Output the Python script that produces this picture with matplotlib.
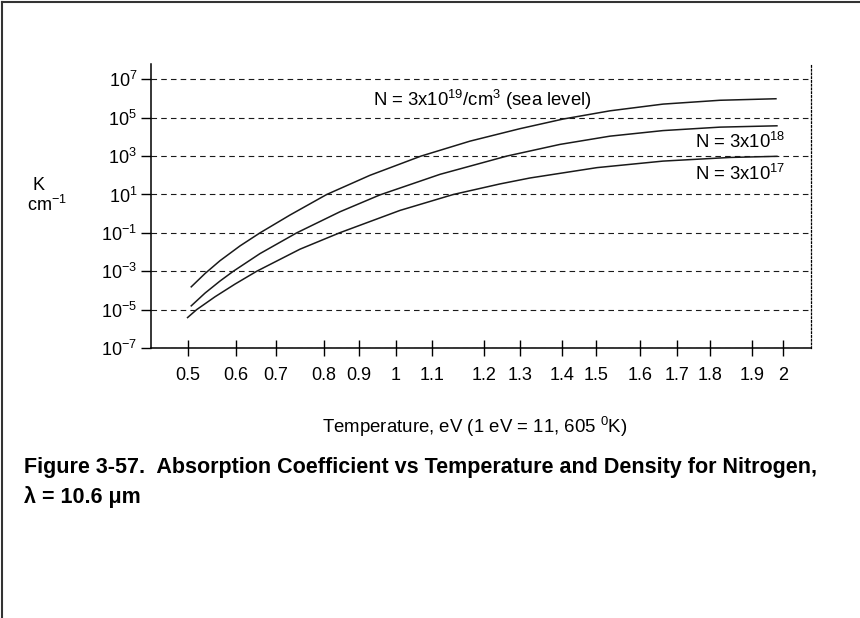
import numpy as np
import matplotlib.pyplot as plt
from matplotlib.lines import Line2D

plt.rcParams['font.family'] = ['Liberation Sans', 'DejaVu Sans']
plt.rcParams['mathtext.fontset'] = 'custom'
plt.rcParams['mathtext.rm'] = 'Liberation Sans'
plt.rcParams['mathtext.bf'] = 'Liberation Sans:bold'
plt.rcParams['lines.scale_dashes'] = False

# axis ticks
temp_ticks = [0.5, 0.6, 0.7, 0.8, 0.9, 1.0, 1.1, 1.2, 1.3, 1.4, 1.5, 1.6, 1.7, 1.8, 1.9, 2.0]
temp_labels = ['0.5', '0.6', '0.7', '0.8', '0.9', '1', '1.1', '1.2', '1.3', '1.4',
               '1.5', '1.6', '1.7', '1.8', '1.9', '2']
k_exponents = [7, 5, 3, 1, -1, -3, -5, -7]

# the original axis is hand drawn: tick spacing is uneven (pixel position of each tick)
tick_pos = [188, 236, 276, 324, 359, 396, 432, 484, 520, 562, 596, 640, 677, 710, 752, 783]

# absorption coefficient curves, log10(K / cm^-1)
t_19 = [0.5056, 0.5354, 0.5667, 0.61, 0.66, 0.7292, 0.8077, 0.9297, 1.0694, 1.1731,
        1.3, 1.4029, 1.5318, 1.6622, 1.8238, 1.9797]
logk_19 = [-3.84, -3.12, -2.45, -1.68, -1.0, -0.07, 1.0, 2.0, 3.0, 3.78,
           4.43, 4.93, 5.36, 5.71, 5.91, 5.99]

t_18 = [0.5056, 0.5354, 0.5667, 0.5944, 0.66, 0.7431, 0.8457, 0.9568, 1.1154, 1.2631,
        1.3952, 1.5318, 1.6622, 1.8238, 1.9829]
logk_18 = [-4.83, -4.14, -3.51, -3.0, -2.08, -1.0, 0.1, 0.98, 2.05, 3.0,
           3.61, 4.04, 4.33, 4.51, 4.58]

t_17 = [0.4979, 0.5181, 0.5563, 0.5979, 0.6518, 0.75, 0.8457, 1.0111, 1.141, 1.2444,
        1.3238, 1.5023, 1.6622, 1.8476, 1.9829]
logk_17 = [-5.44, -5.0, -4.33, -3.67, -3.0, -1.85, -0.99, 0.17, 1.0, 1.55,
           1.86, 2.4, 2.74, 2.93, 2.99]


def fwd(t):
    t = np.asarray(t, dtype=float)
    out = np.interp(t, temp_ticks, tick_pos)
    lo_slope = (tick_pos[1] - tick_pos[0]) / (temp_ticks[1] - temp_ticks[0])
    hi_slope = (tick_pos[-1] - tick_pos[-2]) / (temp_ticks[-1] - temp_ticks[-2])
    out = np.where(t < temp_ticks[0], tick_pos[0] + (t - temp_ticks[0]) * lo_slope, out)
    out = np.where(t > temp_ticks[-1], tick_pos[-1] + (t - temp_ticks[-1]) * hi_slope, out)
    return out


def inv(p):
    p = np.asarray(p, dtype=float)
    out = np.interp(p, tick_pos, temp_ticks)
    lo_slope = (temp_ticks[1] - temp_ticks[0]) / (tick_pos[1] - tick_pos[0])
    hi_slope = (temp_ticks[-1] - temp_ticks[-2]) / (tick_pos[-1] - tick_pos[-2])
    out = np.where(p < tick_pos[0], temp_ticks[0] + (p - tick_pos[0]) * lo_slope, out)
    out = np.where(p > tick_pos[-1], temp_ticks[-1] + (p - tick_pos[-1]) * hi_slope, out)
    return float(out)


W, H = 860, 618
fig = plt.figure(figsize=(W / 100, H / 100), dpi=100)
ax = fig.add_axes([151 / W, 1 - 348 / H, (810.7 - 151) / W, (348 - 64) / H])

ax.set_xscale('function', functions=(fwd, inv))
ax.set_yscale('log')
ax.set_xlim(inv(151), inv(810.7))
ax.set_ylim(1e-7, 10 ** 7.8)

for t, lk in [(t_19, logk_19), (t_18, logk_18), (t_17, logk_17)]:
    ax.plot(t, 10 ** np.array(lk), color='#1a1a1a', lw=1.1, solid_capstyle='butt',
            solid_joinstyle='round')

ax.set_xticks(temp_ticks)
ax.set_xticklabels(temp_labels)
ax.set_yticks([10.0 ** e for e in k_exponents])
ax.set_yticklabels([r'10$^{%d}$' % e for e in k_exponents])
ax.minorticks_off()
ax.tick_params(axis='x', direction='inout', length=11, width=1.0, pad=8, labelsize=13)
ax.tick_params(axis='y', direction='out', length=7, width=1.0, pad=3, labelsize=13)

ax.yaxis.grid(True, color='#1a1a1a', lw=0.8, linestyle=(0, (4, 3)))
ax.set_axisbelow(True)

for side in ['left', 'bottom']:
    ax.spines[side].set_linewidth(1.1)
ax.spines['top'].set_visible(False)
ax.spines['right'].set_linewidth(0.9)
ax.spines['right'].set_linestyle((0, (1.2, 1.5)))

ax.text(inv(372.7), 10 ** 5.59, 'N = 3x10$^{19}$/cm$^{3}$ (sea level)', fontsize=13.3,
        ha='left', va='baseline')
ax.text(inv(785), 10 ** 3.42, 'N = 3x10$^{18}$', fontsize=13.3, ha='right', va='baseline')
ax.text(inv(785), 10 ** 1.77, 'N = 3x10$^{17}$', fontsize=13.3, ha='right', va='baseline')

fig.text(33 / W, 1 - 186 / H, 'K', fontsize=13, ha='left', va='center')
fig.text(27 / W, 1 - 205 / H, 'cm$^{-1}$', fontsize=13, ha='left', va='center')

fig.text(475 / W, 1 - 427 / H, 'Temperature, eV (1 eV = 11, 605 $^{0}$K)', fontsize=13.4,
         ha='center', va='center')

fig.text(24 / W, 1 - 467 / H,
         'Figure 3-57.  Absorption Coefficient vs Temperature and Density for Nitrogen,',
         fontsize=15.5, fontweight='bold', ha='left', va='center')
fig.text(24 / W, 1 - 497 / H, '\u03bb = 10.6 \u03bcm', fontsize=15.5, fontweight='bold',
         ha='left', va='center')

# page frame (top and left edges)
fig.add_artist(Line2D([2 / W, 2 / W], [0, 1 - 2 / H], transform=fig.transFigure,
                      color='#333333', lw=1.5))
fig.add_artist(Line2D([2 / W, 1], [1 - 2 / H, 1 - 2 / H], transform=fig.transFigure,
                      color='#333333', lw=1.5))

fig.savefig('out.png', dpi=100)
